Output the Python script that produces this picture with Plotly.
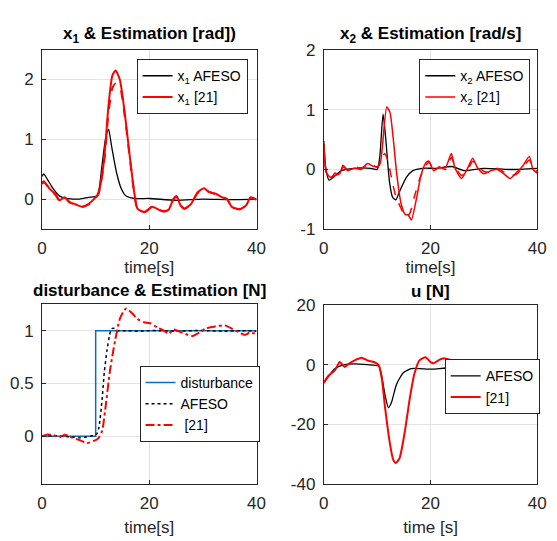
import plotly.graph_objects as go

# ---------------- data ----------------
t_x1_afeso = [0, 0.3, 1, 2.1, 3.3, 4.5, 5.7, 7, 8.7, 10.2, 10.7, 11.1, 11.8, 12.4, 13, 13.9, 14.8, 15.7, 17.2, 20, 25, 30, 35, 40]
x1_afeso = [0.38, 0.42, 0.33, 0.17, 0.05, 0.01, 0.0, 0.0, 0.03, 0.05, 0.2, 0.5, 0.98, 1.17, 0.87, 0.44, 0.17, 0.05, 0.01, 0.01, -0.02, 0.0, -0.01, 0.0]

t_x1_ref = [0, 0.3, 1.45, 2.5, 3.3, 4.2, 5.1, 6.3, 7.5, 8.7, 9.9, 10.5, 11.5, 12.4, 13.1, 13.7, 14.5, 15.4, 16.3, 17.2, 17.8, 19.2, 20.5, 21.8, 22.7, 23.6, 24.5, 25.1, 25.8, 26.6, 27.8, 29, 30.2, 31.1, 32.4, 33.6, 34.5, 35.4, 36.9, 38.1, 38.9, 40]
x1_ref = [0.26, 0.3, 0.17, 0.08, -0.02, 0.03, -0.05, -0.09, -0.13, -0.08, 0.02, 0.09, 0.6, 1.57, 2.06, 2.15, 2.0, 1.46, 0.76, 0.11, -0.16, -0.22, -0.13, -0.18, -0.21, -0.18, 0.0, 0.05, -0.1, -0.16, -0.08, 0.11, 0.18, 0.12, 0.09, 0.03, 0.0, -0.13, -0.17, -0.1, 0.03, -0.01]
x1_ref_est = [0.25, 0.29, 0.16, 0.07, -0.03, 0.03, -0.05, -0.1, -0.13, -0.09, 0.01, 0.08, 0.55, 1.45, 1.85, 1.93, 1.88, 1.4, 0.74, 0.1, -0.16, -0.21, -0.13, -0.18, -0.2, -0.18, 0.0, 0.04, -0.1, -0.16, -0.08, 0.1, 0.17, 0.12, 0.08, 0.03, 0.0, -0.13, -0.17, -0.1, 0.02, -0.01]

t_x2_afeso = [0, 0.4, 1, 1.8, 3.3, 5.7, 8.8, 10, 10.5, 11.1, 11.6, 12.3, 12.9, 13.5, 14.2, 15.5, 16.7, 18.5, 21, 24, 26.4, 30, 35, 40]
x2_afeso = [0.48, 0.0, -0.18, -0.13, -0.02, 0.02, 0.02, 0.0, 0.22, 0.93, 0.53, -0.2, -0.47, -0.51, -0.37, -0.13, -0.02, 0.02, 0.02, 0.05, -0.02, 0.02, 0.0, 0.02]

t_x2_ref = [0, 0.5, 1.2, 2.1, 3, 3.6, 4.5, 5.7, 7, 8.2, 9.1, 10.1, 10.6, 11.8, 12.4, 13, 13.7, 14.5, 15.3, 15.8, 16.4, 17.3, 18.2, 19.1, 19.7, 20.6, 21.5, 22.8, 23.9, 24.6, 25.8, 27, 27.9, 28.8, 30, 31.3, 32.5, 33.7, 34.9, 36.1, 37.3, 38.5, 39.2, 40]
x2_ref = [0.43, -0.05, -0.13, -0.1, -0.07, 0.07, -0.02, 0.02, 0.0, 0.1, 0.06, 0.05, 0.11, 1.05, 0.96, 0.53, -0.1, -0.58, -0.76, -0.76, -0.85, -0.52, -0.1, 0.11, 0.14, -0.02, 0.03, 0.03, 0.27, 0.02, -0.15, 0.03, 0.19, 0.03, -0.07, -0.02, 0.0, -0.07, -0.15, -0.05, 0.06, 0.22, 0.0, -0.06]

t_x2_ref_est = [0, 0.5, 1.2, 2.1, 3, 3.6, 4.5, 5.7, 7, 8.2, 9.1, 10.1, 10.6, 11.4, 12.1, 12.8, 13.5, 14.3, 15, 15.6, 16.2, 17, 18, 19, 19.7, 20.6, 21.5, 22.8, 23.9, 24.6, 25.8, 27, 27.9, 28.8, 30, 31.3, 32.5, 33.7, 34.9, 36.1, 37.3, 38.5, 39.2, 40]
x2_ref_est = [0.4, -0.08, -0.16, -0.06, -0.1, 0.04, 0.0, 0.04, 0.03, 0.07, 0.08, 0.03, 0.13, 0.27, 0.12, -0.2, -0.45, -0.62, -0.75, -0.8, -0.72, -0.45, -0.15, 0.05, 0.12, 0.0, 0.05, 0.0, 0.2, 0.05, -0.1, 0.0, 0.14, 0.06, -0.03, -0.05, 0.02, -0.04, -0.1, -0.08, 0.03, 0.16, 0.03, -0.04]

t_dist = [0, 10, 10, 40]
dist = [0, 0, 1, 1]

t_dist_afeso = [0, 2, 4, 6, 7, 8, 9, 9.6, 10.2, 10.6, 11.2, 11.6, 12.1, 12.6, 13, 13.5, 14, 16, 18, 20, 22, 25, 28, 31, 34, 37, 40]
dist_afeso = [0, 0.005, 0.0, -0.01, -0.015, -0.01, 0.0, 0.01, 0.02, 0.08, 0.35, 0.6, 0.81, 0.96, 1.02, 1.02, 1.0, 1.0, 0.995, 1.0, 1.0, 0.995, 1.0, 1.0, 0.995, 1.0, 0.995]

t_dist_ref = [0, 0.85, 2.1, 3.3, 4.2, 5.7, 6.9, 8.4, 9.6, 10.4, 11.2, 11.8, 12.7, 13.6, 14.5, 15.3, 15.7, 16.9, 17.8, 19, 20.2, 21.5, 22.7, 23.6, 24.5, 25.7, 27.2, 28.1, 29.3, 30.5, 32.3, 34.1, 35.4, 36.5, 37.8, 38.7, 40]
dist_ref = [0, 0.015, 0.01, -0.01, 0.015, -0.015, -0.035, -0.065, -0.045, -0.025, 0.05, 0.26, 0.63, 0.9, 1.11, 1.19, 1.21, 1.16, 1.11, 1.08, 1.07, 1.03, 1.0, 0.97, 1.01, 0.99, 0.96, 0.95, 0.98, 1.02, 1.04, 1.05, 1.02, 0.99, 0.96, 0.98, 0.97]

t_u_afeso = [0, 0.85, 2.1, 3.9, 5.7, 8.2, 10.3, 10.7, 11.5, 12.1, 12.7, 13.6, 14.9, 16.4, 17.9, 20.3, 22.8, 26, 30, 35, 40]
u_afeso = [-6.1, -4, -1.3, 0, 0.3, 0, -0.5, -2.4, -10.4, -14.4, -12.6, -6.7, -2.7, -1.3, -1.3, -1.5, -1.1, -1.0, -1.0, -1.0, -1.0]

t_u_ref = [0, 0.85, 2.1, 3, 3.9, 4.8, 5.7, 7.2, 8.2, 9.4, 10.3, 10.9, 11.5, 12.4, 13, 13.5, 14.2, 15.2, 16.1, 17, 17.9, 19.1, 20, 20.6, 21.6, 22.5, 23.1, 25, 26.8, 30, 33, 36.5, 38, 40]
u_ref = [-6.1, -3.8, -1.8, 0.9, -0.75, 0.5, 1.4, 2.3, 1.4, 0.9, -0.2, -5, -14.7, -26.6, -31.9, -33, -31.4, -22.3, -11.5, -2.9, 1.4, 2.5, 0.9, 0.5, 1.6, 2.2, 1.9, 1.0, 0.5, 0.0, 0.3, 0.8, 0.0, -1.0]

titles = ["x<sub>1</sub> & Estimation [rad])", "x<sub>2</sub> & Estimation [rad/s]",
          "disturbance & Estimation [N]", "u [N]"]
xlabels = ["time[s]", "time[s]", "time[s]", "time [s]"]

# ---------------- figure ----------------
W, H = 557, 541
FONT = "Liberation Sans, Arial, Helvetica, sans-serif"
AX = "#262626"
RED = "#ff0000"
BLK = "#000000"
BLUE = "#0072bd"
SM = 0.6

fig = go.Figure()

def px_x(a, b):
    return [a / W, b / W]

def px_y(top, bot):
    return [1 - bot / H, 1 - top / H]

doms = [
    (px_x(38, 258), px_y(42, 228)),
    (px_x(327, 546), px_y(43, 228)),
    (px_x(38, 258), px_y(306, 492)),
    (px_x(327, 546), px_y(307, 492)),
]
yranges = [[-0.5, 2.5], [-1, 2], [-0.45, 1.25], [-40, 20]]
yticks = [[0, 1, 2], [-1, 0, 1, 2], [0, 0.5, 1], [-40, -20, 0, 20]]
yticktext = [["0", "1", "2"], ["-1", "0", "1", "2"], ["0", "0.5", "1"], ["-40", "-20", "0", "20"]]
xstandoff = [3, 3, 8, 8]

def ln(color, width, dash="solid", shape="spline"):
    d = dict(color=color, width=width, dash=dash, shape=shape)
    if shape == "spline":
        d["smoothing"] = SM
    return d

# panel 1
fig.add_trace(go.Scatter(x=t_x1_afeso, y=x1_afeso, mode="lines", name="x<sub>1</sub> AFESO",
                         line=ln(BLK, 1.3), xaxis="x", yaxis="y", legend="legend"))
fig.add_trace(go.Scatter(x=t_x1_ref, y=x1_ref_est, mode="lines", showlegend=False,
                         line=ln(RED, 2, "dash"), xaxis="x", yaxis="y", legend="legend"))
fig.add_trace(go.Scatter(x=t_x1_ref, y=x1_ref, mode="lines", name="x<sub>1</sub> [21]",
                         line=ln(RED, 2), xaxis="x", yaxis="y", legend="legend"))
# panel 2
fig.add_trace(go.Scatter(x=t_x2_afeso, y=x2_afeso, mode="lines", name="x<sub>2</sub> AFESO",
                         line=ln(BLK, 1.3), xaxis="x2", yaxis="y2", legend="legend2"))
fig.add_trace(go.Scatter(x=t_x2_ref_est, y=x2_ref_est, mode="lines", showlegend=False,
                         line=ln(RED, 1.5, "dash"), xaxis="x2", yaxis="y2", legend="legend2"))
fig.add_trace(go.Scatter(x=t_x2_ref, y=x2_ref, mode="lines", name="x<sub>2</sub> [21]",
                         line=ln(RED, 1.5), xaxis="x2", yaxis="y2", legend="legend2"))
# panel 3
fig.add_trace(go.Scatter(x=t_dist, y=dist, mode="lines", name="disturbance",
                         line=ln(BLUE, 1.5, shape="linear"), xaxis="x3", yaxis="y3", legend="legend3"))
fig.add_trace(go.Scatter(x=t_dist_afeso, y=dist_afeso, mode="lines", name="AFESO",
                         line=ln(BLK, 1.5, "dot"), xaxis="x3", yaxis="y3", legend="legend3"))
fig.add_trace(go.Scatter(x=t_dist_ref, y=dist_ref, mode="lines", name="\u00a0[21]",
                         line=ln(RED, 2, "dashdot"), xaxis="x3", yaxis="y3", legend="legend3"))
# panel 4
fig.add_trace(go.Scatter(x=t_u_afeso, y=u_afeso, mode="lines", name="AFESO",
                         line=ln(BLK, 1.3), xaxis="x4", yaxis="y4", legend="legend4"))
fig.add_trace(go.Scatter(x=t_u_ref, y=u_ref, mode="lines", name="[21]",
                         line=ln(RED, 2), xaxis="x4", yaxis="y4", legend="legend4"))

layout = dict(
    width=W, height=H, margin=dict(l=0, r=0, t=0, b=0),
    paper_bgcolor="white", plot_bgcolor="white",
    font=dict(family=FONT, size=17, color=AX),
)

for i in range(4):
    sfx = "" if i == 0 else str(i + 1)
    xd, yd = doms[i]
    layout["xaxis" + sfx] = dict(
        domain=xd, range=[0, 40], anchor="y" + sfx,
        tickvals=[0, 20, 40], ticktext=["0", "20", "40"],
        showline=True, mirror=True, linecolor=AX, linewidth=1,
        ticks="inside", ticklen=4, tickcolor=AX,
        showgrid=True, gridcolor="#e3e3e3", zeroline=False,
        tickfont=dict(size=17, color=AX), ticklabelstandoff=4,
        title=dict(text=xlabels[i], font=dict(size=17, color=AX), standoff=xstandoff[i]),
    )
    layout["yaxis" + sfx] = dict(
        domain=yd, range=yranges[i], anchor="x" + sfx,
        tickvals=yticks[i], ticktext=yticktext[i],
        showline=True, mirror=True, linecolor=AX, linewidth=1,
        ticks="inside", ticklen=4, tickcolor=AX,
        showgrid=True, gridcolor="#e3e3e3", zeroline=False,
        tickfont=dict(size=17, color=AX), ticklabelstandoff=4,
    )

legend_common = dict(bgcolor="white", bordercolor=AX, borderwidth=1,
                     font=dict(size=14, color="#000000"), xanchor="left", yanchor="top",
                     xref="paper", yref="paper", itemwidth=30, tracegroupgap=0)
legend_pos = [(135, 52), (425, 52), (138, 370), (451, 363)]
for i, (lx, ly) in enumerate(legend_pos):
    key = "legend" if i == 0 else "legend" + str(i + 1)
    layout[key] = dict(legend_common, x=lx / W, y=1 - ly / H)

annotations = []
for i in range(4):
    xd, yd = doms[i]
    annotations.append(dict(
        text="<b>" + titles[i] + "</b>", xref="paper", yref="paper",
        x=(xd[0] + xd[1]) / 2, y=yd[1], xanchor="center", yanchor="bottom",
        yshift=2, showarrow=False, font=dict(size=17, color="#000000", family=FONT),
    ))
layout["annotations"] = annotations

fig.update_layout(**layout)
fig.write_html("out.html")
